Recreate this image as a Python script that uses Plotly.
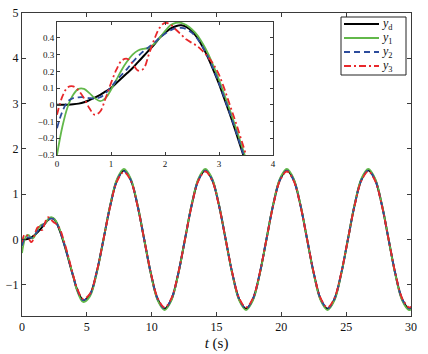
import plotly.graph_objects as go

# ---------------- data ----------------
t = [0.0, 0.1, 0.2, 0.3, 0.4, 0.5, 0.6, 0.7, 0.8, 0.9, 1.0, 1.1, 1.2, 1.3, 1.4,
     1.5, 1.6, 1.7, 1.8, 1.9, 2.0, 2.1, 2.2, 2.3, 2.4, 2.5, 2.6, 2.7, 2.8, 2.9,
     3.0, 3.1, 3.2, 3.3, 3.4, 3.5, 3.6, 3.7, 3.8, 3.9, 4.0,
     4.189, 4.712, 5.236, 5.760, 6.283, 6.807, 7.330, 7.854, 8.378, 8.901,
     9.425, 9.948, 10.472, 10.996, 11.519, 12.043, 12.566, 13.090, 13.614,
     14.137, 14.661, 15.184, 15.708, 16.232, 16.755, 17.279, 17.802, 18.326,
     18.850, 19.373, 19.897, 20.420, 20.944, 21.468, 21.991, 22.515, 23.038,
     23.562, 24.086, 24.609, 25.133, 25.656, 26.180, 26.704, 27.227, 27.751,
     28.274, 28.798, 29.322, 29.845, 30.0]

y_d = [0.0, 0.0, 0.001, 0.003, 0.007, 0.015, 0.028, 0.043, 0.06, 0.08, 0.10,
       0.13, 0.16, 0.19, 0.22, 0.255, 0.29, 0.325, 0.36, 0.40, 0.43, 0.455,
       0.47, 0.475, 0.465, 0.44, 0.40, 0.345, 0.28, 0.205, 0.125, 0.035,
       -0.055, -0.15, -0.25, -0.35, -0.455, -0.56, -0.665, -0.765, -0.863,
       -1.057, -1.34, -1.221, -0.725, 0.0, 0.75, 1.308, 1.52, 1.321, 0.765,
       0.0, -0.765, -1.325, -1.53, -1.325, -0.765,
       0.0, 0.765, 1.325, 1.53, 1.325, 0.765,
       0.0, -0.765, -1.325, -1.53, -1.325, -0.765,
       0.0, 0.765, 1.325, 1.53, 1.325, 0.765,
       0.0, -0.765, -1.325, -1.53, -1.325, -0.765,
       0.0, 0.765, 1.325, 1.53, 1.325, 0.765,
       0.0, -0.765, -1.325, -1.53, -1.512]

y_1 = [-0.30, -0.13, -0.01, 0.06, 0.095, 0.095, 0.07, 0.04, 0.022, 0.04, 0.09,
       0.15, 0.21, 0.26, 0.30, 0.325, 0.335, 0.34, 0.365, 0.40, 0.44, 0.475,
       0.49, 0.49, 0.475, 0.45, 0.415, 0.365, 0.305, 0.23, 0.15, 0.06,
       -0.03, -0.125, -0.225, -0.325, -0.435, -0.545, -0.65, -0.755, -0.855,
       -1.08, -1.38, -1.26, -0.75, 0.0, 0.77, 1.34, 1.56, 1.351, 0.78,
       0.0, -0.78, -1.351, -1.56, -1.351, -0.78,
       0.0, 0.78, 1.351, 1.56, 1.351, 0.78,
       0.0, -0.78, -1.351, -1.56, -1.351, -0.78,
       0.0, 0.78, 1.351, 1.56, 1.351, 0.78,
       0.0, -0.78, -1.351, -1.56, -1.351, -0.78,
       0.0, 0.78, 1.351, 1.56, 1.351, 0.78,
       0.0, -0.78, -1.351, -1.56, -1.542]

y_2 = [-0.14, -0.04, 0.02, 0.04, 0.045, 0.045, 0.04, 0.038, 0.045, 0.07, 0.105,
       0.145, 0.18, 0.215, 0.255, 0.29, 0.32, 0.345, 0.37, 0.40, 0.425, 0.445,
       0.458, 0.46, 0.452, 0.43, 0.395, 0.345, 0.285, 0.21, 0.13, 0.04,
       -0.05, -0.145, -0.245, -0.345, -0.45, -0.555, -0.66, -0.76, -0.86,
       -1.05, -1.34, -1.215, -0.72, 0.0, 0.745, 1.30, 1.51, 1.316, 0.76,
       0.0, -0.76, -1.316, -1.52, -1.316, -0.76,
       0.0, 0.76, 1.316, 1.52, 1.316, 0.76,
       0.0, -0.76, -1.316, -1.52, -1.316, -0.76,
       0.0, 0.76, 1.316, 1.52, 1.316, 0.76,
       0.0, -0.76, -1.316, -1.52, -1.316, -0.76,
       0.0, 0.76, 1.316, 1.52, 1.316, 0.76,
       0.0, -0.76, -1.316, -1.52, -1.502]

y_3 = [-0.06, 0.05, 0.105, 0.11, 0.085, 0.04, -0.02, -0.06, -0.04, 0.04, 0.13,
       0.21, 0.265, 0.275, 0.245, 0.205, 0.215, 0.30, 0.39, 0.46, 0.49, 0.48,
       0.45, 0.42, 0.39, 0.37, 0.35, 0.32, 0.285, 0.24, 0.18, 0.095,
       0.0, -0.095, -0.195, -0.30, -0.41, -0.52, -0.635, -0.74, -0.845,
       -1.03, -1.31, -1.20, -0.71, 0.0, 0.735, 1.285, 1.49, 1.30, 0.75,
       0.0, -0.75, -1.299, -1.50, -1.299, -0.75,
       0.0, 0.75, 1.299, 1.50, 1.299, 0.75,
       0.0, -0.75, -1.299, -1.50, -1.299, -0.75,
       0.0, 0.75, 1.299, 1.50, 1.299, 0.75,
       0.0, -0.75, -1.299, -1.50, -1.299, -0.75,
       0.0, 0.75, 1.299, 1.50, 1.299, 0.75,
       0.0, -0.75, -1.299, -1.50, -1.482]

main_xticks = [0, 5, 10, 15, 20, 25, 30]
main_yticks = [-1, 0, 1, 2, 3, 4, 5]
inset_xticks = [0, 1, 2, 3, 4]
inset_yticks = [-0.3, -0.2, -0.1, 0, 0.1, 0.2, 0.3, 0.4]
inset_ytext = ["\u22120.3", "\u22120.2", "\u22120.1", "0", "0.1", "0.2", "0.3", "0.4"]

series = [
    ("y_d", y_d, "<i>y</i><sub>d</sub>"),
    ("y_1", y_1, "<i>y</i><sub>1</sub>"),
    ("y_2", y_2, "<i>y</i><sub>2</sub>"),
    ("y_3", y_3, "<i>y</i><sub>3</sub>"),
]

# ---------------- styles ----------------
W, H = 428, 354
styles = {
    "y_d": dict(color="#000000", width=2.0, dash="solid"),
    "y_1": dict(color="#62B84A", width=1.8, dash="solid"),
    "y_2": dict(color="#2C4C9C", width=1.8, dash="6px,4px"),
    "y_3": dict(color="#E8282B", width=1.8, dash="7px,3px,2px,3px"),
}
SERIF = "Liberation Serif, Times New Roman, serif"
AX = "#3a3a3a"

fig = go.Figure()
for name, ys, label in series:
    for xa, ya in (("x", "y"), ("x2", "y2")):
        fig.add_trace(go.Scatter(
            x=t, y=ys, mode="lines", name=name, xaxis=xa, yaxis=ya,
            line=dict(shape="spline", **styles[name]),
            showlegend=False, hoverinfo="skip"))

def px(x):
    return x / W

def py(y):
    return 1 - y / H

axis_common = dict(showline=True, linecolor=AX, linewidth=1, mirror="ticks",
                   ticks="inside", tickcolor=AX, showgrid=False, zeroline=False,
                   automargin=False)

fig.update_layout(
    width=W, height=H,
    margin=dict(l=0, r=0, t=0, b=0),
    paper_bgcolor="white", plot_bgcolor="white",
    xaxis=dict(domain=[px(22), px(411)], range=[0, 30], tickvals=main_xticks,
               ticklen=4, anchor="y",
               title=dict(text="<i>t</i> (s)", font=dict(family=SERIF, size=15, color="#111111"),
                          standoff=4),
               tickfont=dict(family=SERIF, size=12, color="#111111"), **axis_common),
    yaxis=dict(domain=[py(316), py(13)], range=[-1.69, 5], tickvals=main_yticks,
               ticklen=4, anchor="x",
               tickfont=dict(family=SERIF, size=12, color="#111111"), **axis_common),
    xaxis2=dict(domain=[px(57), px(273)], range=[0, 4], tickvals=inset_xticks,
                ticklen=3, anchor="y2",
                tickfont=dict(family=SERIF, size=9, color="#111111"), **axis_common),
    yaxis2=dict(domain=[py(155), py(22)], range=[-0.3, 0.495], tickvals=inset_yticks,
                ticktext=inset_ytext, ticklen=3, anchor="x2",
                tickfont=dict(family=SERIF, size=9, color="#111111"), **axis_common),
)

# ---------------- legend (drawn as a boxed key) ----------------
box_l, box_r, box_t, box_b = 341, 406, 17, 75
fig.add_shape(type="rect", xref="paper", yref="paper",
              x0=px(box_l), x1=px(box_r), y0=py(box_b), y1=py(box_t),
              line=dict(color="#222222", width=1), fillcolor="white", layer="above")
row_y = [24, 38, 52, 66]
for (name, ys, label), ry in zip(series, row_y):
    st = styles[name]
    fig.add_shape(type="line", xref="paper", yref="paper",
                  x0=px(344), x1=px(379), y0=py(ry), y1=py(ry),
                  line=dict(color=st["color"], width=st["width"], dash=st["dash"]),
                  layer="above")
    fig.add_annotation(xref="paper", yref="paper", x=px(381), y=py(ry),
                       text=label, showarrow=False, xanchor="left", yanchor="middle",
                       borderpad=0,
                       font=dict(family=SERIF, size=12, color="#111111"))

fig.write_html("out.html")
